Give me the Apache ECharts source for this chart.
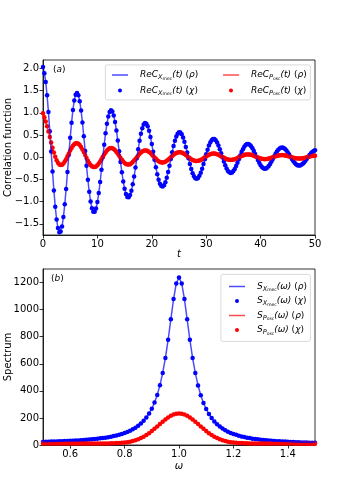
<!DOCTYPE html>
<html>
<head>
<meta charset="utf-8">
<script src="https://cdn.jsdelivr.net/npm/echarts@6/dist/echarts.min.js"></script>
<style>
  html, body { margin: 0; padding: 0; background: #fff; }
  #chart { width: 350px; height: 500px; }
</style>
</head>
<body>
<div id="chart"></div>
<script>
// (a) correlation functions, sampled every 0.25 in t
const t = [0,0.25,0.5,0.75,1,1.25,1.5,1.75,2,2.25,2.5,2.75,3,3.25,3.5,3.75,4,4.25,4.5,4.75,5,5.25,5.5,5.75,6,
  6.25,6.5,6.75,7,7.25,7.5,7.75,8,8.25,8.5,8.75,9,9.25,9.5,9.75,10,10.25,10.5,10.75,11,11.25,11.5,11.75,12,12.25,
  12.5,12.75,13,13.25,13.5,13.75,14,14.25,14.5,14.75,15,15.25,15.5,15.75,16,16.25,16.5,16.75,17,17.25,17.5,17.75,18,18.25,18.5,
  18.75,19,19.25,19.5,19.75,20,20.25,20.5,20.75,21,21.25,21.5,21.75,22,22.25,22.5,22.75,23,23.25,23.5,23.75,24,24.25,24.5,24.75,
  25,25.25,25.5,25.75,26,26.25,26.5,26.75,27,27.25,27.5,27.75,28,28.25,28.5,28.75,29,29.25,29.5,29.75,30,30.25,30.5,30.75,31,
  31.25,31.5,31.75,32,32.25,32.5,32.75,33,33.25,33.5,33.75,34,34.25,34.5,34.75,35,35.25,35.5,35.75,36,36.25,36.5,36.75,37,37.25,
  37.5,37.75,38,38.25,38.5,38.75,39,39.25,39.5,39.75,40,40.25,40.5,40.75,41,41.25,41.5,41.75,42,42.25,42.5,42.75,43,43.25,43.5,
  43.75,44,44.25,44.5,44.75,45,45.25,45.5,45.75,46,46.25,46.5,46.75,47,47.25,47.5,47.75,48,48.25,48.5,48.75,49,49.25,49.5,49.75,
  50];

const reCXmec = [2.03,1.894,1.695,1.395,1.017,0.586,0.130,-0.323,-0.746,-1.112,-1.400,-1.595,-1.687,-1.673,-1.556,-1.347,-1.059,-0.714,-0.333,0.059,0.437,0.780,1.066,1.280,1.409,
  1.448,1.398,1.262,1.052,0.783,0.472,0.140,-0.193,-0.506,-0.779,-0.998,-1.150,-1.227,-1.228,-1.152,-1.008,-0.804,-0.557,-0.281,0.005,0.284,0.539,0.753,0.917,1.020,
  1.058,1.029,0.938,0.792,0.600,0.376,0.134,-0.109,-0.340,-0.545,-0.710,-0.828,-0.892,-0.900,-0.852,-0.753,-0.610,-0.432,-0.233,-0.024,0.181,0.370,0.532,0.656,0.738,
  0.772,0.757,0.696,0.595,0.458,0.297,0.122,-0.056,-0.227,-0.380,-0.505,-0.596,-0.648,-0.659,-0.629,-0.562,-0.461,-0.334,-0.190,-0.038,0.113,0.253,0.374,0.468,0.532,
  0.562,0.556,0.516,0.445,0.349,0.234,0.107,-0.024,-0.150,-0.264,-0.357,-0.428,-0.470,-0.482,-0.464,-0.418,-0.347,-0.257,-0.153,-0.042,0.068,0.172,0.263,0.334,0.384,
  0.409,0.409,0.383,0.334,0.265,0.182,0.090,-0.005,-0.098,-0.182,-0.253,-0.307,-0.340,-0.352,-0.343,-0.311,-0.262,-0.198,-0.122,-0.042,0.039,0.116,0.183,0.238,0.277,
  0.297,0.299,0.283,0.249,0.201,0.142,0.075,0.006,-0.063,-0.125,-0.179,-0.220,-0.246,-0.257,-0.252,-0.231,-0.197,-0.151,-0.097,-0.038,0.021,0.077,0.128,0.169,0.199,
  0.216,0.219,0.208,0.186,0.152,0.110,0.061,0.011,-0.039,-0.086,-0.126,-0.157,-0.178,-0.188,-0.186,-0.171,-0.147,-0.115,-0.077,-0.034,0.010,0.051,0.089,0.120,0.144,
  0.157];

const reCPosc = [0.991,0.901,0.806,0.698,0.581,0.458,0.335,0.217,0.107,0.012,-0.066,-0.124,-0.160,-0.174,-0.167,-0.140,-0.097,-0.042,0.021,0.087,0.151,0.209,0.258,0.293,0.313,
  0.316,0.303,0.274,0.231,0.177,0.116,0.050,-0.016,-0.076,-0.130,-0.173,-0.204,-0.219,-0.220,-0.207,-0.180,-0.142,-0.096,-0.043,0.010,0.063,0.110,0.151,0.182,0.201,
  0.208,0.203,0.185,0.157,0.121,0.078,0.032,-0.014,-0.058,-0.097,-0.128,-0.150,-0.162,-0.164,-0.155,-0.136,-0.109,-0.075,-0.037,0.002,0.041,0.077,0.108,0.132,0.147,
  0.154,0.151,0.139,0.120,0.094,0.063,0.030,-0.004,-0.036,-0.065,-0.089,-0.106,-0.116,-0.118,-0.113,-0.100,-0.081,-0.056,-0.029,0.000,0.028,0.055,0.078,0.096,0.108,
  0.114,0.113,0.105,0.092,0.073,0.051,0.027,0.002,-0.022,-0.043,-0.061,-0.074,-0.082,-0.085,-0.081,-0.072,-0.059,-0.042,-0.022,-0.001,0.020,0.040,0.057,0.070,0.080,
  0.085,0.085,0.080,0.070,0.057,0.042,0.024,0.006,-0.012,-0.028,-0.041,-0.051,-0.058,-0.060,-0.058,-0.052,-0.043,-0.031,-0.016,-0.001,0.014,0.029,0.042,0.052,0.060,
  0.063,0.064,0.061,0.054,0.045,0.034,0.021,0.008,-0.005,-0.017,-0.027,-0.035,-0.040,-0.042,-0.041,-0.037,-0.030,-0.022,-0.011,0.000,0.011,0.022,0.031,0.039,0.045,
  0.048,0.049,0.047,0.042,0.036,0.028,0.019,0.009,0.000,-0.009,-0.017,-0.023,-0.027,-0.029,-0.028,-0.025,-0.021,-0.015,-0.008,0.001,0.009,0.017,0.024,0.030,0.034,
  0.037];

// (b) spectra, sampled every 0.01 in omega
const omega = [0.50,0.51,0.52,0.53,0.54,0.55,0.56,0.57,0.58,0.59,
  0.60,0.61,0.62,0.63,0.64,0.65,0.66,0.67,0.68,0.69,
  0.70,0.71,0.72,0.73,0.74,0.75,0.76,0.77,0.78,0.79,
  0.80,0.81,0.82,0.83,0.84,0.85,0.86,0.87,0.88,0.89,
  0.90,0.91,0.92,0.93,0.94,0.95,0.96,0.97,0.98,0.99,
  1.00,1.01,1.02,1.03,1.04,1.05,1.06,1.07,1.08,1.09,
  1.10,1.11,1.12,1.13,1.14,1.15,1.16,1.17,1.18,1.19,
  1.20,1.21,1.22,1.23,1.24,1.25,1.26,1.27,1.28,1.29,
  1.30,1.31,1.32,1.33,1.34,1.35,1.36,1.37,1.38,1.39,
  1.40,1.41,1.42,1.43,1.44,1.45,1.46,1.47,1.48,1.49,
  1.50];

const sXmec = [23,24,24,25,26,26,27,28,29,30,
  31,32,33,34,35,37,38,40,42,44,
  46,49,51,54,58,61,66,70,75,82,
  88,96,105,116,128,143,159,179,203,232,
  268,314,370,442,532,643,777,928,1078,1193,
  1237,1193,1078,928,777,643,531,440,367,310,
  266,229,199,174,153,136,121,109,98,89,
  81,75,68,63,59,54,51,47,44,42,
  39,37,35,33,31,30,28,27,26,25,
  24,23,22,21,20,19,19,18,17,17,
  16];

const sPosc = [11,11,11,11,11,11,11,12,12,12,
  12,12,12,12,12,12,12,12,12,12,
  12,12,12,12,12,13,13,14,15,16,
  18,21,24,29,35,42,51,61,73,87,
  103,120,137,155,172,189,204,216,225,231,
  233,231,225,216,204,189,172,155,137,120,
  103,87,73,61,51,42,35,29,24,21,
  18,16,15,14,13,13,12,12,12,12,
  12,12,12,12,11,11,11,11,11,11,
  11,11,11,10,10,10,10,10,10,10,
  10];

const tTicks = [0, 10, 20, 30, 40, 50];
const corrTicks = [-1.5, -1.0, -0.5, 0.0, 0.5, 1.0, 1.5, 2.0];
const omegaTicks = [0.6, 0.8, 1.0, 1.2, 1.4];
const specTicks = [0, 200, 400, 600, 800, 1000, 1200];

const FONT = 'DejaVu Sans';
const BLUE = '#0000ff';
const RED = '#ff0000';
const BLUE_LINE = 'rgba(0,0,255,0.7)';
const RED_LINE = 'rgba(255,0,0,0.7)';
const LINE_ICON = 'path://M0 0H16V1.5H0Z';

const pairs = (xs, ys) => xs.map((x, i) => [x, ys[i]]);
const minus = v => String(v).replace('-', '\u2212');

// legend labels with nested subscripts
const legendText = {
  cx_rho: '{m|ReC}{s|X}{ss|mec}{m|(t) }{u|(}{m|ρ}{u|)}',
  cx_chi: '{m|ReC}{s|X}{ss|mec}{m|(t) }{u|(}{m|χ}{u|)}',
  cp_rho: '{m|ReC}{s|P}{ss|osc}{m|(t) }{u|(}{m|ρ}{u|)}',
  cp_chi: '{m|ReC}{s|P}{ss|osc}{m|(t) }{u|(}{m|χ}{u|)}',
  sx_rho: '{m|S}{s|X}{ss|mec}{m|(ω) }{u|(}{m|ρ}{u|)}',
  sx_chi: '{m|S}{s|X}{ss|mec}{m|(ω) }{u|(}{m|χ}{u|)}',
  sp_rho: '{m|S}{s|P}{ss|osc}{m|(ω) }{u|(}{m|ρ}{u|)}',
  sp_chi: '{m|S}{s|P}{ss|osc}{m|(ω) }{u|(}{m|χ}{u|)}'
};
const rich = {
  m: { fontFamily: FONT, fontSize: 9, fontStyle: 'italic', color: '#000', lineHeight: 12 },
  u: { fontFamily: FONT, fontSize: 9, color: '#000', lineHeight: 12 },
  s: { fontFamily: FONT, fontSize: 6.5, fontStyle: 'italic', color: '#000', lineHeight: 7, verticalAlign: 'bottom' },
  ss: { fontFamily: FONT, fontSize: 4.5, color: '#000', lineHeight: 4, verticalAlign: 'bottom' }
};

const makeLegend = (left, top, gap, data) => ({
  left: left, top: top, orient: 'vertical', itemGap: gap,
  itemWidth: 16, itemHeight: 4, selectedMode: false,
  data: data,
  formatter: name => legendText[name],
  textStyle: { rich: rich, padding: [0, 0, 0, 7] }
});

const axisCommon = {
  axisLine: { onZero: false, lineStyle: { color: '#000', width: 0.8 } },
  splitLine: { show: false },
  nameLocation: 'middle',
  nameMoveOverlap: false,
  nameTextStyle: { fontFamily: FONT, fontSize: 10, color: '#000' }
};
const tickStyle = vals => ({ customValues: vals, length: 3.5, lineStyle: { color: '#000', width: 0.8 } });
const labelStyle = (vals, fmt) => ({ customValues: vals, fontFamily: FONT, fontSize: 10, color: '#000', margin: 4, formatter: fmt });

const chart = echarts.init(document.getElementById('chart'), null, { renderer: 'canvas' });

chart.setOption({
  animation: false,
  backgroundColor: '#fff',
  grid: [
    { left: 43, right: 35, top: 60, height: 175, show: true, borderColor: '#000', borderWidth: 0.8,
      containLabel: false, outerBoundsMode: 'none' },
    { left: 43, right: 35, top: 269, height: 176, show: true, borderColor: '#000', borderWidth: 0.8,
      containLabel: false, outerBoundsMode: 'none' }
  ],
  xAxis: [
    Object.assign({}, axisCommon, {
      gridIndex: 0, type: 'value', min: 0, max: 50,
      name: 't', nameGap: 14,
      nameTextStyle: { fontFamily: FONT, fontSize: 10, fontStyle: 'italic', color: '#000' },
      axisTick: tickStyle(tTicks), axisLabel: labelStyle(tTicks, v => String(v))
    }),
    Object.assign({}, axisCommon, {
      gridIndex: 1, type: 'value', min: 0.5, max: 1.5,
      name: 'ω', nameGap: 16,
      nameTextStyle: { fontFamily: FONT, fontSize: 10, fontStyle: 'italic', color: '#000' },
      axisTick: tickStyle(omegaTicks), axisLabel: labelStyle(omegaTicks, v => v.toFixed(1))
    })
  ],
  yAxis: [
    Object.assign({}, axisCommon, {
      gridIndex: 0, type: 'value', min: -1.75, max: 2.19,
      name: 'Correlation function', nameGap: 30,
      axisTick: tickStyle(corrTicks), axisLabel: labelStyle(corrTicks, v => minus(v.toFixed(1)))
    }),
    Object.assign({}, axisCommon, {
      gridIndex: 1, type: 'value', min: 0, max: 1300,
      name: 'Spectrum', nameGap: 30,
      axisTick: tickStyle(specTicks), axisLabel: labelStyle(specTicks, v => String(v))
    })
  ],
  legend: [
    makeLegend(107, 65.5, 5, [{ name: 'cx_rho', icon: LINE_ICON }, { name: 'cx_chi', icon: 'circle' }]),
    makeLegend(218, 65.5, 5, [{ name: 'cp_rho', icon: LINE_ICON }, { name: 'cp_chi', icon: 'circle' }]),
    makeLegend(224, 277, 4, [
      { name: 'sx_rho', icon: LINE_ICON }, { name: 'sx_chi', icon: 'circle' },
      { name: 'sp_rho', icon: LINE_ICON }, { name: 'sp_chi', icon: 'circle' }
    ])
  ],
  graphic: [
    { type: 'rect', left: 105, top: 64.5, z: 1, shape: { width: 205, height: 35, r: 2 },
      style: { fill: 'rgba(255,255,255,0.8)', stroke: '#d0d0d0', lineWidth: 0.8 } },
    { type: 'rect', left: 220.5, top: 274, z: 1, shape: { width: 89.5, height: 67, r: 2 },
      style: { fill: 'rgba(255,255,255,0.8)', stroke: '#d0d0d0', lineWidth: 0.8 } },
    { type: 'text', left: 53, top: 65, z: 5,
      style: { text: '{u|(}{m|a}{u|)}', rich: rich } },
    { type: 'text', left: 51, top: 274.5, z: 5,
      style: { text: '{u|(}{m|b}{u|)}', rich: rich } }
  ],
  series: [
    { name: 'cx_rho', type: 'line', xAxisIndex: 0, yAxisIndex: 0, showSymbol: false, color: BLUE_LINE,
      lineStyle: { width: 1.5, color: BLUE_LINE }, data: pairs(t, reCXmec) },
    { name: 'cx_chi', type: 'scatter', xAxisIndex: 0, yAxisIndex: 0, symbolSize: 4.5, color: BLUE,
      itemStyle: { opacity: 1 }, data: pairs(t, reCXmec) },
    { name: 'cp_rho', type: 'line', xAxisIndex: 0, yAxisIndex: 0, showSymbol: false, color: RED_LINE,
      lineStyle: { width: 1.5, color: RED_LINE }, data: pairs(t, reCPosc) },
    { name: 'cp_chi', type: 'scatter', xAxisIndex: 0, yAxisIndex: 0, symbolSize: 4.5, color: RED,
      itemStyle: { opacity: 1 }, data: pairs(t, reCPosc) },

    { name: 'sx_rho', type: 'line', xAxisIndex: 1, yAxisIndex: 1, showSymbol: false, color: BLUE_LINE,
      lineStyle: { width: 1.5, color: BLUE_LINE }, data: pairs(omega, sXmec) },
    { name: 'sx_chi', type: 'scatter', xAxisIndex: 1, yAxisIndex: 1, symbolSize: 4.5, color: BLUE,
      itemStyle: { opacity: 1 }, data: pairs(omega, sXmec) },
    { name: 'sp_rho', type: 'line', xAxisIndex: 1, yAxisIndex: 1, showSymbol: false, color: RED_LINE,
      lineStyle: { width: 1.5, color: RED_LINE }, data: pairs(omega, sPosc) },
    { name: 'sp_chi', type: 'scatter', xAxisIndex: 1, yAxisIndex: 1, symbolSize: 4.5, color: RED,
      itemStyle: { opacity: 1 }, data: pairs(omega, sPosc) }
  ]
});
</script>
</body>
</html>
